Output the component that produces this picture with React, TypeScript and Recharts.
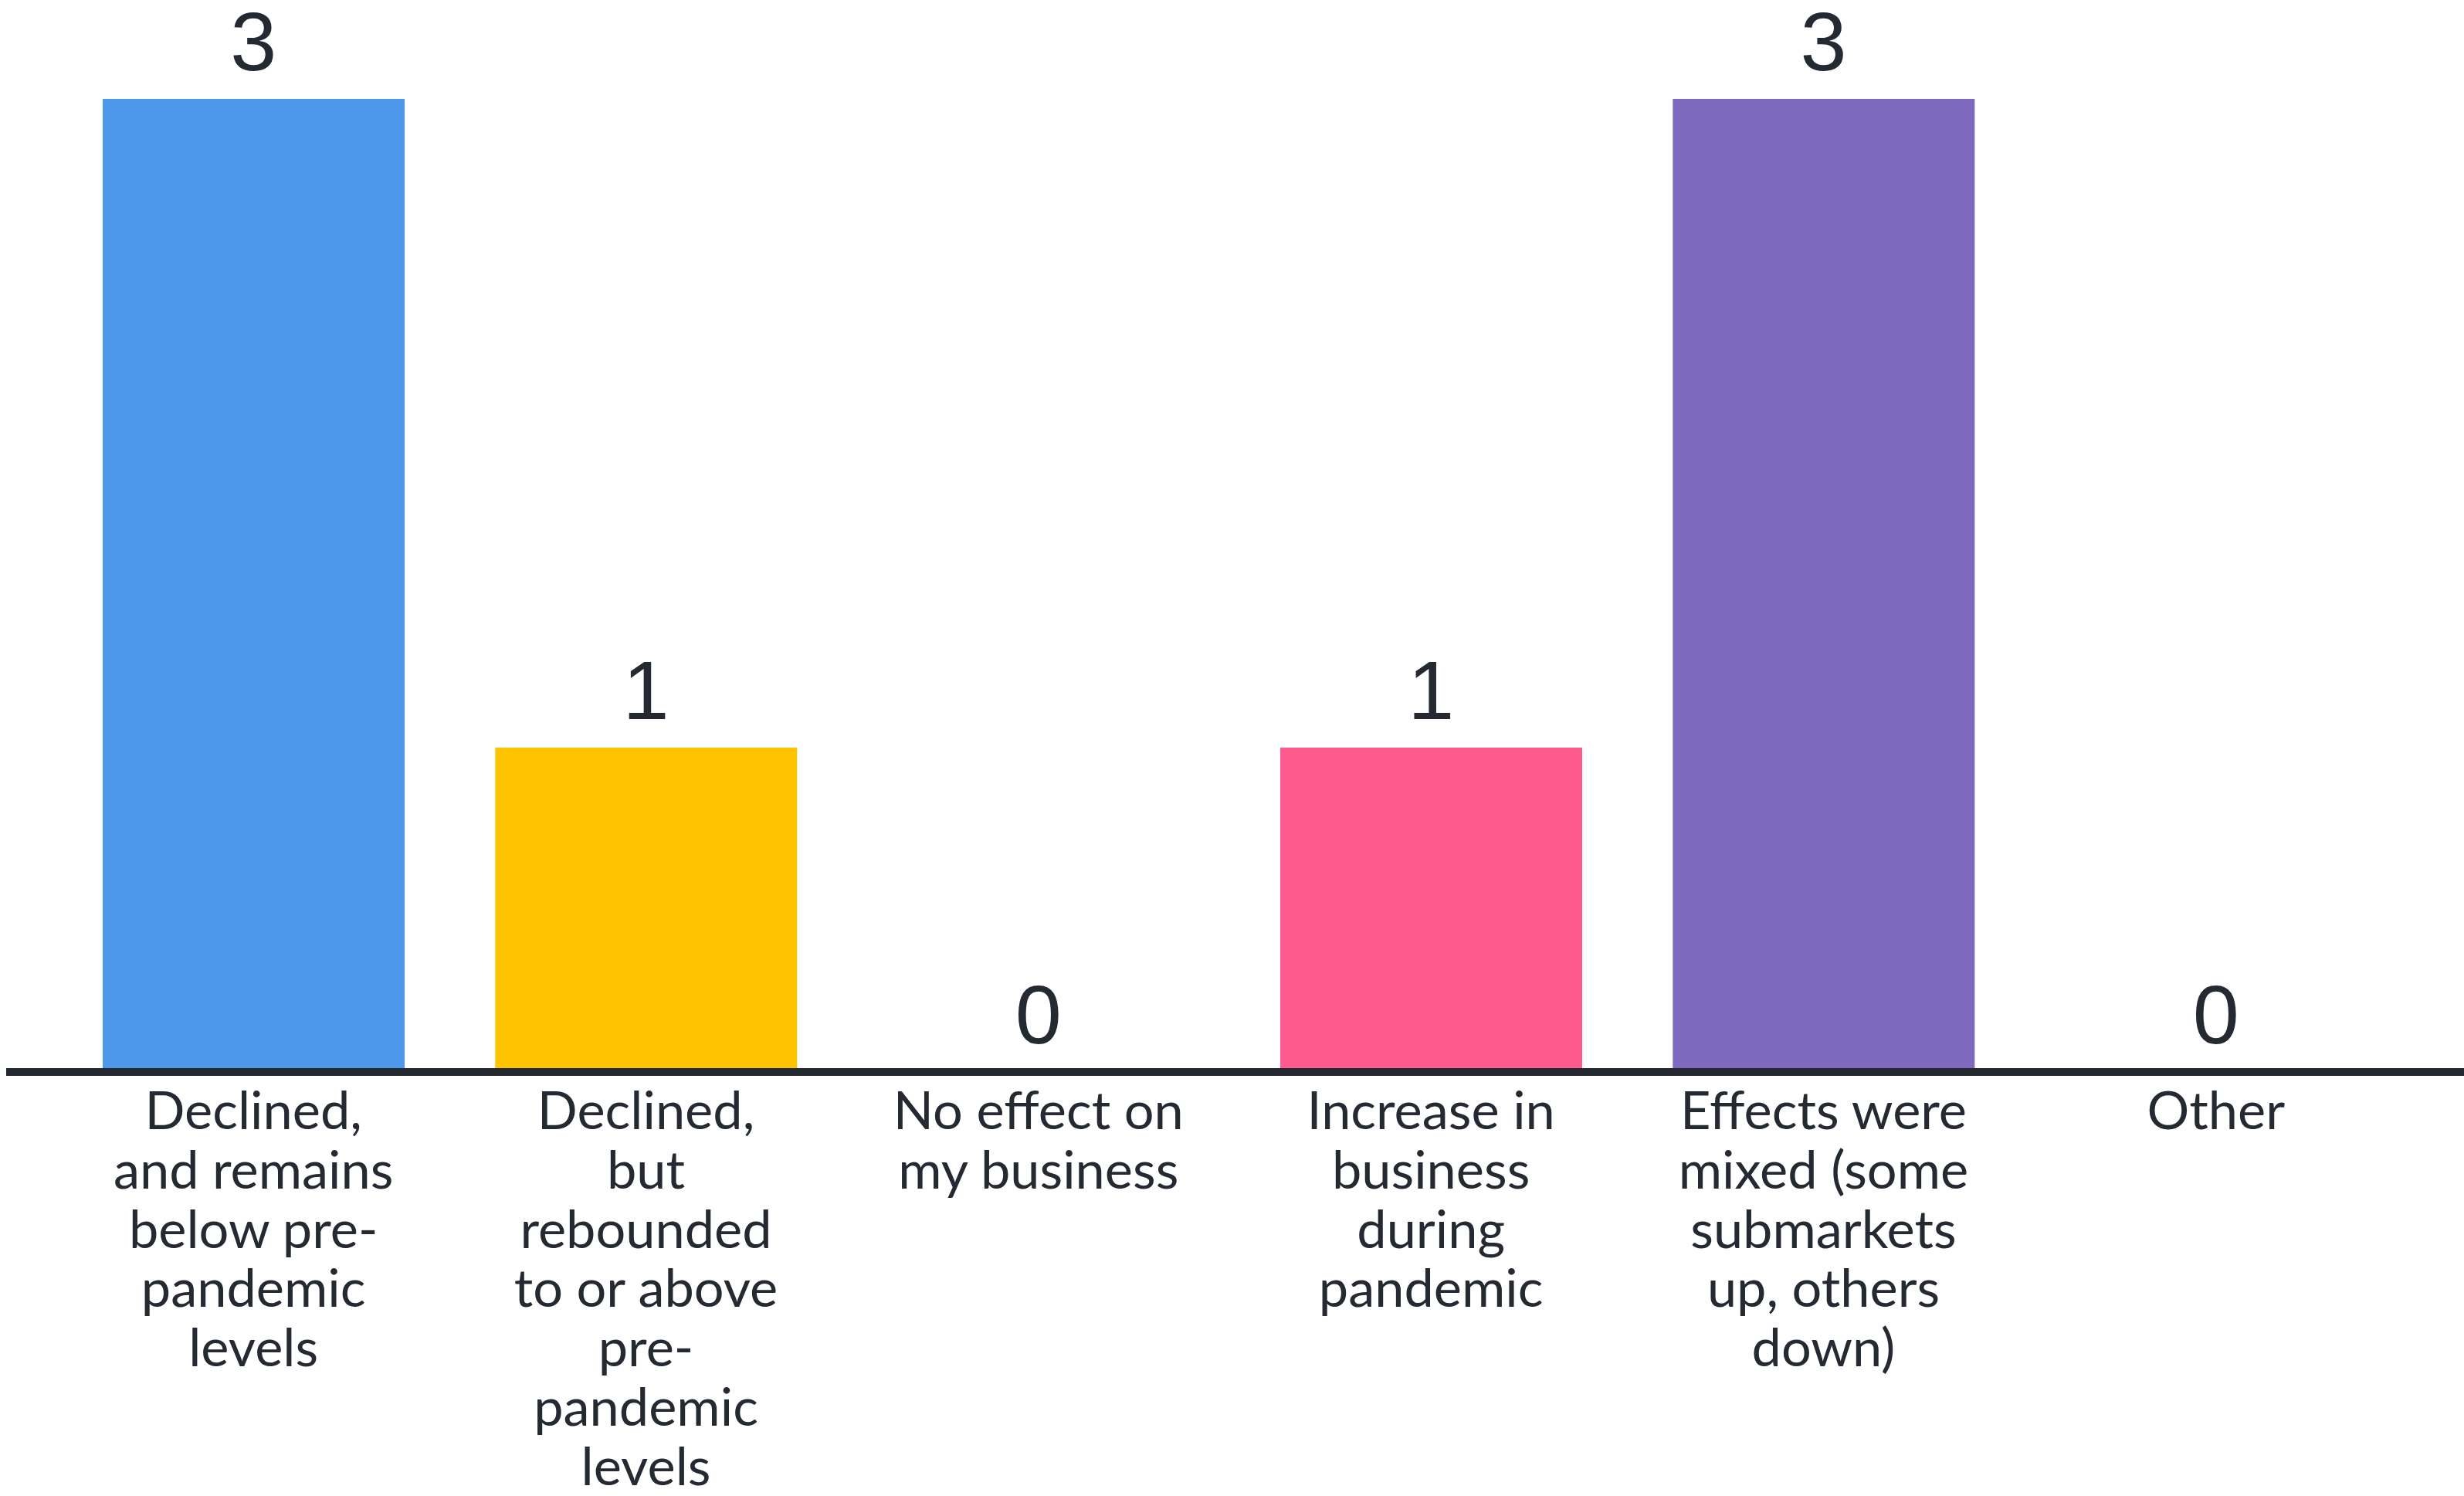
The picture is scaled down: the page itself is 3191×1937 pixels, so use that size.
import React from "react";
import { ComposedChart, Bar, Line, XAxis, YAxis, Cell, LabelList } from "recharts";

const categories = [
  "Declined, and remains below pre-pandemic levels",
  "Declined, but rebounded to or above pre-pandemic levels",
  "No effect on my business",
  "Increase in business during pandemic",
  "Effects were mixed (some submarkets up, others down)",
  "Other",
];

const tickLines = [
  ["Declined,", "and remains", "below pre-", "pandemic", "levels"],
  ["Declined,", "but", "rebounded", "to or above", "pre-", "pandemic", "levels"],
  ["No effect on", "my business"],
  ["Increase in", "business", "during", "pandemic"],
  ["Effects were", "mixed (some", "submarkets", "up, others", "down)"],
  ["Other"],
];

const counts = [3, 1, 0, 1, 3, 0];

const colorList = ["#4E98EC", "#FEC400", "#FFFFFF", "#FF5A8E", "#7E69BE", "#FFFFFF"];

const data = categories.map((name, i) => ({ name, value: counts[i] }));

const TEXT = "#252932";

const CategoryTick = (props: any) => {
  const { x, y, index } = props;
  const lines = tickLines[index] || [];
  return (
    <text
      x={x}
      y={y + 74}
      textAnchor="middle"
      fill={TEXT}
      fontFamily="Lato, 'Open Sans', sans-serif"
      fontSize={68.5}
    >
      {lines.map((l, i) => (
        <tspan key={i} x={x} dy={i === 0 ? 0 : 76.8}>
          {l}
        </tspan>
      ))}
    </text>
  );
};

export default function App() {
  return (
    <div style={{ position: "absolute", left: 0, top: 0, width: 3191, height: 1937, background: "#fff" }}>
      <ComposedChart
        width={3191}
        height={1937}
        data={data}
        margin={{ top: 128, right: 0, bottom: 0, left: 8 }}
      >
        <XAxis
          dataKey="name"
          interval={0}
          height={549}
          padding={{ left: 66, right: 67 }}
          axisLine={{ stroke: "#23272F", strokeWidth: 10 }}
          tickLine={false}
          tickSize={0}
          tickMargin={0}
          tick={<CategoryTick />}
        />
        <YAxis hide domain={[0, 3]} />
        <Bar dataKey="value" barSize={391} isAnimationActive={false}>
          {data.map((d, i) => (
            <Cell key={i} fill={colorList[i]} />
          ))}
        </Bar>
        <Line
          dataKey="value"
          stroke="none"
          dot={false}
          activeDot={false}
          isAnimationActive={false}
        >
          <LabelList
            dataKey="value"
            position="top"
            offset={37}
            fill={TEXT}
            fontSize={108}
            fontFamily="'Liberation Sans', Arial, sans-serif"
          />
        </Line>
      </ComposedChart>
    </div>
  );
}
